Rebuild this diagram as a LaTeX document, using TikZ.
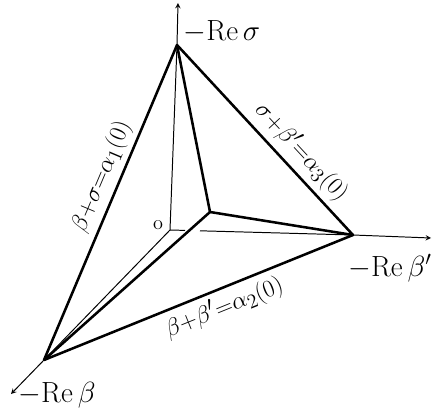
\documentclass[tikz,border=0pt]{standalone}
\usepackage{amsmath}
\usepackage{tikz}
\usetikzlibrary{arrows}

\begin{document}
\begin{tikzpicture}[
    x=0.025cm, y=0.025cm,
    edge/.style={line width=1.8pt, line join=round},
    axis/.style={line width=0.7pt},
    arrow/.style={->, >=stealth, line width=0.7pt},
    axislabel/.style={font=\huge, inner sep=1pt},
    edgelabel/.style={font=\fontsize{19}{22}\selectfont, inner sep=4pt}
]
\useasboundingbox (0,0) rectangle (432,409);

% Corners
\coordinate (O) at (170,179);
\coordinate (T) at (177,364);
\coordinate (R) at (353,174);
\coordinate (L) at (44,49);
\coordinate (P) at (210,197);

% Axis ends
\coordinate (Ttip) at (178,406);
\coordinate (Rtip) at (431,171);
\coordinate (Ltip) at (11,15);
\coordinate (gapA) at (185,178.6);
\coordinate (gapB) at (200,178.2);

% Axes
\draw[axis] (O) -- (T);
\draw[axis] (O) -- (L);
\draw[axis] (O) -- (gapA);
\draw[axis] (gapB) -- (R);
\draw[arrow] (T) -- (Ttip);
\draw[arrow] (R) -- (Rtip);
\draw[arrow] (L) -- (Ltip);

% Tetrahedron
\draw[edge] (T) -- (R) -- (L) -- cycle;
\draw[edge] (T) -- (P) -- (R);
\draw[edge] (P) -- (L);

% Edge labels
\path (L) -- (T) node[edgelabel, pos=0.56, sloped, above] (e1) {$\beta{+}\sigma{=}\alpha_1(0)$};
\path (T) -- (R) node[edgelabel, pos=0.63, sloped, above] (e3) {$\sigma{+}\beta'{=}\alpha_3(0)$};
\path (L) -- (R) node[edgelabel, pos=0.56, sloped, below] (e2) {$\beta{+}\beta'{=}\alpha_2(0)$};

% Axis labels
\node[axislabel] (labT) at (222,377) {$-\mathrm{Re}\,\sigma$};
\node[axislabel] (labR) at (390,141) {$-\mathrm{Re}\,\beta'$};
\node[axislabel] (labL) at (57,14) {$-\mathrm{Re}\,\beta$};
\node[font=\Large] (labO) at (158,184) {o};

\end{tikzpicture}
\end{document}
